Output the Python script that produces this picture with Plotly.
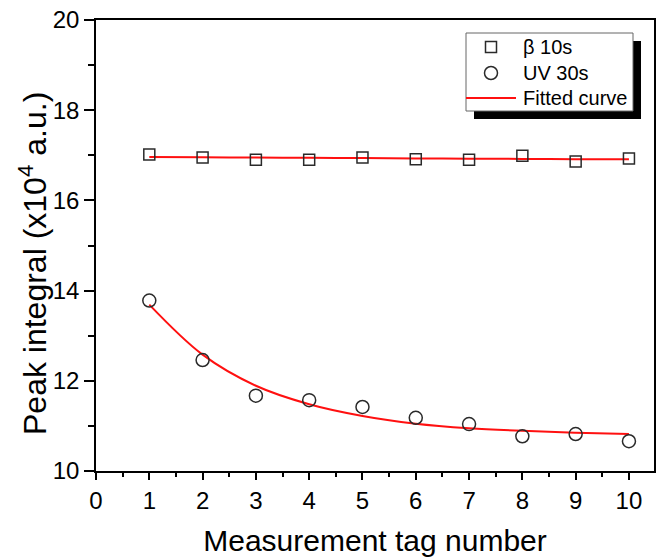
import plotly.graph_objects as go

# Measurement tags
tags = [1, 2, 3, 4, 5, 6, 7, 8, 9, 10]

# Peak integral (x10^4 a.u.) for each source
beta_10s = [17.02, 16.95, 16.90, 16.90, 16.95, 16.91, 16.90, 16.99, 16.86, 16.93]
uv_30s = [13.78, 12.46, 11.67, 11.57, 11.42, 11.18, 11.04, 10.77, 10.82, 10.66]

# Fitted curves evaluated at each tag
beta_fit = [16.96, 16.955, 16.95, 16.945, 16.94, 16.93, 16.925, 16.92, 16.915, 16.91]
uv_fit = [13.69, 12.58, 11.89, 11.48, 11.22, 11.05, 10.95, 10.89, 10.85, 10.82]

x_ticks = list(range(0, 11))
y_ticks = [10, 12, 14, 16, 18, 20]

legend_names = ["β 10s", "UV 30s", "Fitted curve"]

FONT = "Liberation Sans, Arial, sans-serif"
MARK = "#2a2a2a"
FIT = "#ff1010"

# plot area in pixels: x 96..654, y 20..471
L, R, T, B = 96, 654, 20, 471
W, H = R - L, B - T


def px(xp):
    return (xp - L) / W


def py(yp):
    return 1 - (yp - T) / H


fig = go.Figure()

fig.add_trace(go.Scatter(
    x=tags, y=beta_fit, mode="lines", name="Fitted curve",
    line=dict(color=FIT, width=2, shape="spline"), hoverinfo="skip",
))
fig.add_trace(go.Scatter(
    x=tags, y=uv_fit, mode="lines", name="Fitted curve",
    line=dict(color=FIT, width=2, shape="spline"), hoverinfo="skip",
))
fig.add_trace(go.Scatter(
    x=tags, y=beta_10s, mode="markers", name=legend_names[0],
    marker=dict(symbol="square-open", size=11, color=MARK, line=dict(width=1.5, color=MARK)),
))
fig.add_trace(go.Scatter(
    x=tags, y=uv_30s, mode="markers", name=legend_names[1],
    marker=dict(symbol="circle-open", size=13, color=MARK, line=dict(width=1.5, color=MARK)),
))

# ---- boxed legend with a drop shadow (drawn on an overlay axis in paper units) ----
box = dict(x0=466, x1=633, y0=33, y1=111)
shadow = 8
row_y = [47, 73, 98]
sym_x = 491
text_x = 521

fig.add_shape(
    type="rect", xref="paper", yref="paper",
    x0=px(box["x0"] + shadow), x1=px(box["x1"] + shadow),
    y0=py(box["y1"] + shadow), y1=py(box["y0"] + shadow),
    fillcolor="black", line=dict(width=0), layer="below",
)
fig.add_shape(
    type="rect", xref="paper", yref="paper",
    x0=px(box["x0"]), x1=px(box["x1"]), y0=py(box["y1"]), y1=py(box["y0"]),
    fillcolor="white", line=dict(width=1, color="#666666"), layer="below",
)
fig.add_trace(go.Scatter(
    x=[px(sym_x)], y=[py(row_y[0])], xaxis="x2", yaxis="y2", mode="markers",
    marker=dict(symbol="square-open", size=11, color=MARK, line=dict(width=1.5, color=MARK)),
    showlegend=False, hoverinfo="skip",
))
fig.add_trace(go.Scatter(
    x=[px(sym_x)], y=[py(row_y[1])], xaxis="x2", yaxis="y2", mode="markers",
    marker=dict(symbol="circle-open", size=13, color=MARK, line=dict(width=1.5, color=MARK)),
    showlegend=False, hoverinfo="skip",
))
fig.add_trace(go.Scatter(
    x=[px(box["x0"]), px(516)], y=[py(row_y[2]), py(row_y[2])], xaxis="x2", yaxis="y2",
    mode="lines", line=dict(color=FIT, width=2), showlegend=False, hoverinfo="skip",
))
for name, ry in zip(legend_names, row_y):
    fig.add_annotation(
        text=name, xref="paper", yref="paper", x=px(text_x), y=py(ry),
        xanchor="left", yanchor="middle", showarrow=False,
        font=dict(family=FONT, size=20, color="black"),
    )

fig.add_annotation(
    text="Peak integral (x10<sup>4</sup> a.u.)",
    xref="paper", yref="paper", x=px(33), y=py(264),
    textangle=-90, showarrow=False, xanchor="center", yanchor="middle",
    font=dict(family=FONT, size=32, color="black"),
)

fig.update_layout(
    width=672, height=559,
    margin=dict(l=L, r=672 - R, t=T, b=559 - B),
    paper_bgcolor="white", plot_bgcolor="white",
    font=dict(family=FONT, color="black"),
    showlegend=False,
    xaxis=dict(
        range=[0, 10.47], tickvals=x_ticks, ticktext=[str(v) for v in x_ticks],
        showgrid=False, zeroline=False, automargin=False,
        showline=True, linecolor="black", linewidth=1.5, mirror=True,
        ticks="outside", ticklen=7, tickwidth=1.5, tickcolor="black",
        tickfont=dict(family=FONT, size=24),
        minor=dict(tickvals=[v + 0.5 for v in x_ticks], ticks="outside", ticklen=4,
                   tickwidth=1.5, tickcolor="black", showgrid=False),
        title=dict(text="Measurement tag number", font=dict(family=FONT, size=30), standoff=17),
    ),
    yaxis=dict(
        range=[10, 20], tickvals=y_ticks, ticktext=[str(v) for v in y_ticks],
        showgrid=False, zeroline=False, automargin=False,
        showline=True, linecolor="black", linewidth=1.5, mirror=True,
        ticks="outside", ticklen=10, tickwidth=1.5, tickcolor="black",
        tickfont=dict(family=FONT, size=24),
        minor=dict(tickvals=[11, 13, 15, 17, 19], ticks="outside", ticklen=6,
                   tickwidth=1.5, tickcolor="black", showgrid=False),
    ),
    xaxis2=dict(overlaying="x", range=[0, 1], visible=False, fixedrange=True),
    yaxis2=dict(overlaying="y", range=[0, 1], visible=False, fixedrange=True),
)

fig.write_html("out.html")
